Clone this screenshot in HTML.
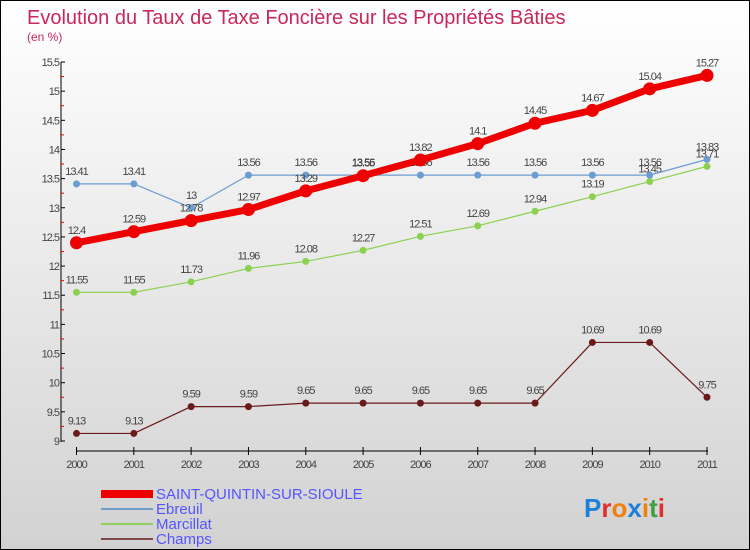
<!DOCTYPE html>
<html><head><meta charset="utf-8"><style>
body{margin:0}
#c{width:750px;height:550px;position:relative;box-sizing:border-box;border:1px solid #000;background:linear-gradient(#fff,#d2d2d2);font-family:"Liberation Sans",sans-serif;overflow:hidden}
</style></head><body>
<div id="c">
<svg id="s" width="750" height="550" style="position:absolute;left:0;top:0">
<text x="26" y="23" font-size="20" fill="#c8285a">Evolution du Taux de Taxe Foncière sur les Propriétés Bâties</text>
<text x="26" y="40" font-size="12" fill="#c8285a">(en %)</text>
<g id="axes"></g><g id="series"></g>
<g>
<rect x="100" y="489" width="52" height="8" fill="#e00"/>
<text x="155" y="498" font-size="15" fill="#5555ff">SAINT-QUINTIN-SUR-SIOULE</text>
<rect x="100" y="507" width="52" height="2" fill="#6fa0cc"/>
<text x="155" y="513" font-size="15" fill="#5555ff">Ebreuil</text>
<rect x="100" y="522" width="52" height="2" fill="#90d060"/>
<text x="155" y="528" font-size="15" fill="#5555ff">Marcillat</text>
<rect x="100" y="537" width="52" height="2" fill="#804848"/>
<text x="155" y="543" font-size="15" fill="#5555ff">Champs</text>
</g>
<text x="583" y="516" font-size="26" font-weight="bold"><tspan fill="#1e7fd8">P</tspan><tspan fill="#e03030">r</tspan><tspan fill="#f08010">o</tspan><tspan fill="#1e7fd8">x</tspan><tspan fill="#f08010">i</tspan><tspan fill="#40a040">t</tspan><tspan fill="#e03030">i</tspan></text>
</svg>
</div>
<script>
const years=["2000","2001","2002","2003","2004","2005","2006","2007","2008","2009","2010","2011"];
const yTicks=[9,9.5,10,10.5,11,11.5,12,12.5,13,13.5,14,14.5,15,15.5];
const sqValues=[12.4,12.59,12.78,12.97,13.29,13.55,13.82,14.1,14.45,14.67,15.04,15.27];
const ebreuilValues=[13.41,13.41,13,13.56,13.56,13.56,13.56,13.56,13.56,13.56,13.56,13.83];
const marcillatValues=[11.55,11.55,11.73,11.96,12.08,12.27,12.51,12.69,12.94,13.19,13.45,13.71];
const champsValues=[9.13,9.13,9.59,9.59,9.65,9.65,9.65,9.65,9.65,10.69,10.69,9.75];
const NS="http://www.w3.org/2000/svg";
const X=i=>75.5+i*(706-75.5)/11;
const Y=v=>440-(v-9)*(440-61)/6.5;
function mk(t,a,p){const e=document.createElementNS(NS,t);for(const k in a)e.setAttribute(k,a[k]);p.appendChild(e);return e;}
const ax=document.getElementById('axes');
const yl=mk('line',{x1:60,y1:61,x2:60,y2:441,stroke:'#000'},ax);


const xl=mk('line',{x1:75,y1:450,x2:707,y2:450,stroke:'#000'},ax);


yTicks.forEach(v=>{
 mk('line',{x1:60,y1:Y(v),x2:64,y2:Y(v),stroke:'#000'},ax);
 if(v<15.5)mk('line',{x1:60,y1:Y(v+0.25),x2:63,y2:Y(v+0.25),stroke:'#e00'},ax);
 const t=mk('text',{x:58,y:Y(v)+4,'font-size':11,fill:'#444','text-anchor':'end','letter-spacing':'-1'},ax);
 t.textContent=String(v);
 
 
});
years.forEach((y,i)=>{
 mk('line',{x1:X(i),y1:446,x2:X(i),y2:454,stroke:'#000'},ax);
 const t=mk('text',{x:X(i),y:467,'font-size':11,fill:'#444','text-anchor':'middle','letter-spacing':'-1'},ax);
 t.textContent=y;
 
 
});
const sg=document.getElementById('series');
function draw(vals,color,w,r,name){
 const g=mk('g',{},sg);
 
 
 mk('polyline',{points:vals.map((v,i)=>X(i)+','+Y(v)).join(' '),fill:'none',stroke:color,'stroke-width':w,'stroke-linejoin':'round'},g);
 vals.forEach((v,i)=>{
  const c=mk('circle',{cx:X(i),cy:Y(v),r:r,fill:color},g);
  
  
  const t=mk('text',{x:X(i),y:Y(v)-9,'font-size':11,fill:'#444','text-anchor':'middle','letter-spacing':'-1'},g);
  t.textContent=String(v);
  
  
 });
}
draw(champsValues,'#6a1a1a',1.2,3.5,'series-champs');
draw(marcillatValues,'#8cd050',1.2,3.5,'series-marcillat');
draw(ebreuilValues,'#6a9ed0',1.2,3.5,'series-ebreuil');
draw(sqValues,'#ee0000',7,6.5,'series-saint-quintin');
</script>
</body></html>
